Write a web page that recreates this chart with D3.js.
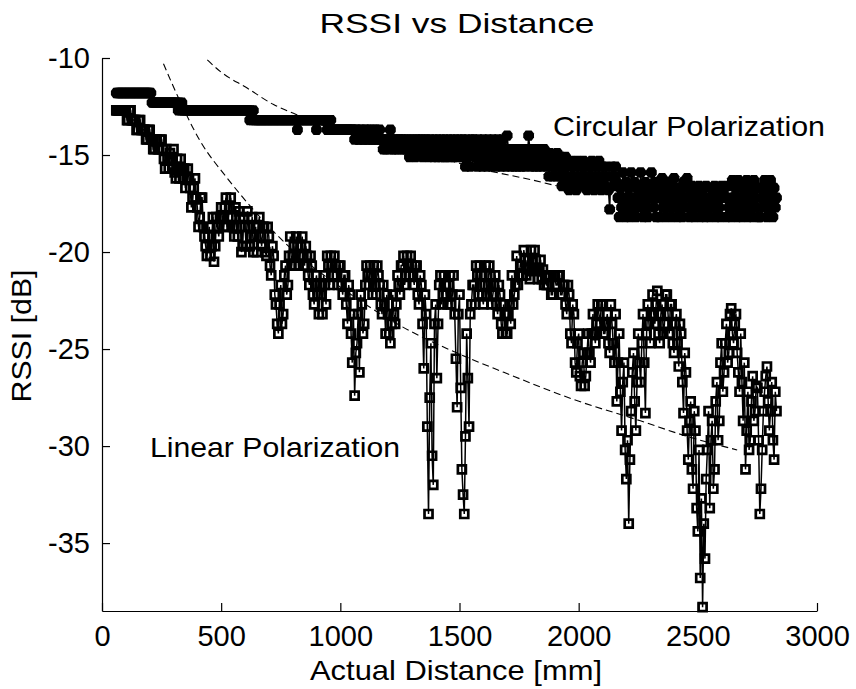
<!DOCTYPE html>
<html>
<head>
<meta charset="utf-8">
<script src="https://cdn.jsdelivr.net/npm/d3@7"></script>
<style>
  body { margin: 0; background: #fff; }
  svg { font-family: "Liberation Sans", Arial, sans-serif; }
  .axis path, .axis line { stroke: #000; stroke-width: 1.2; }
  .axis text { font-size: 29px; fill: #000; }
  .label { font-size: 28px; fill: #000; }
  .path-line { fill: none; stroke: #000; stroke-width: 1.5; }
  .path-fit { fill: none; stroke: #000; stroke-width: 1.1; stroke-dasharray: 7 4; }
</style>
</head>
<body>
<div id="rssi_chart"></div>
<script>
// Sample grid of the measurement (mm)
const firstDistance = 60
const lastDistance = 2830
const distanceStep = 5
const distanceMm = d3.range(firstDistance, lastDistance + 1, distanceStep)

// Linear polarization RSSI (dB), 30 samples per 150 mm
const linearRssi = [
  -12.7, -12.7, -12.7, -12.7, -12.7, -12.7, -12.7, -12.7, -12.7, -13.2, -13.2, -12.7, -12.7, -13.2, -13.2,
  -13.2, -13.2, -13.7, -13.7, -13.2, -13.2, -13.7, -13.7, -13.7, -13.7, -14.2, -14.2, -13.7, -13.7, -14.2,
  -14.2, -14.7, -14.7, -14.2, -14.2, -14.7, -14.7, -14.2, -14.2, -14.7, -15.2, -15.7, -14.7, -15.2, -15.7,
  -14.9, -15.2, -15.7, -14.7, -15.9, -16.2, -15.2, -15.7, -16.2, -15.2, -15.7, -16.2, -15.7, -16.7, -16.2,
  -15.7, -16.2, -16.7, -17.7, -17.2, -16.7, -16.2, -17.2, -17.7, -18.7, -18.2, -17.2, -17.2, -18.7, -19.2,
  -19.7, -20.2, -19.2, -18.7, -20.2, -19.7, -18.2, -20.5, -19.7, -18.2, -18.7, -19.2, -18.2, -17.7, -18.2,
  -18.7, -17.7, -17.2, -18.7, -18.2, -17.7, -17.2, -18.2, -18.7, -19.2, -17.7, -18.7, -19.2, -17.9, -18.2,
  -20.0, -19.7, -18.2, -18.7, -19.7, -17.9, -18.7, -19.7, -19.2, -18.2, -20.0, -19.2, -18.7, -20.0, -18.7,
  -18.2, -19.2, -19.7, -18.7, -18.7, -20.0, -20.2, -18.7, -19.2, -20.7, -21.2, -19.7, -20.2, -22.2, -22.7,
  -23.7, -24.2, -22.7, -21.7, -23.7, -23.2, -21.2, -20.7, -22.2, -21.7, -20.2, -19.2, -20.7, -20.2, -19.7,
  -20.7, -19.2, -19.7, -20.7, -20.2, -19.7, -19.2, -20.2, -20.7, -19.7, -20.2, -21.2, -21.7, -20.2, -20.7,
  -22.2, -22.7, -21.7, -21.2, -22.2, -23.2, -21.7, -22.2, -23.2, -21.2, -21.7, -22.7, -20.2, -20.7, -21.7,
  -20.2, -20.7, -21.2, -20.2, -20.7, -21.2, -21.7, -20.7, -20.7, -21.7, -22.2, -21.2, -21.2, -22.7, -23.7,
  -21.7, -22.2, -24.2, -25.7, -23.2, -27.4, -25.2, -24.7, -23.2, -26.2, -22.2, -22.7, -24.2, -23.7, -21.7,
  -20.7, -21.2, -21.7, -20.7, -21.2, -22.2, -20.7, -21.7, -22.2, -20.7, -21.2, -21.7, -22.7, -23.2, -21.7,
  -22.7, -24.2, -22.2, -23.2, -24.2, -24.7, -23.7, -22.2, -23.2, -23.7, -22.7, -21.2, -21.7, -22.2, -20.7,
  -20.7, -20.2, -21.7, -21.2, -20.2, -20.7, -21.2, -20.2, -20.7, -21.2, -21.7, -20.7, -20.7, -22.2, -22.7,
  -21.2, -21.7, -23.7, -26.0, -22.2, -23.2, -29.0, -33.5, -27.5, -24.7, -30.5, -32.0, -23.7, -22.7, -26.5,
  -23.7, -21.7, -21.2, -22.7, -22.2, -21.2, -21.7, -22.2, -22.7, -21.7, -21.2, -22.7, -22.2, -21.2, -23.2,
  -25.5, -28.0, -23.2, -22.2, -27.0, -31.2, -32.5, -33.5, -29.5, -24.2, -26.5, -29.0, -23.2, -22.7, -21.7,
  -21.7, -22.7, -20.7, -21.2, -22.2, -20.7, -21.2, -22.2, -22.7, -21.7, -20.7, -22.2, -21.7, -20.7, -21.2,
  -22.7, -22.2, -21.7, -21.2, -22.7, -23.2, -21.7, -22.2, -23.7, -24.2, -22.7, -23.2, -24.2, -24.2, -23.2,
  -22.7, -23.7, -21.2, -22.7, -22.2, -21.7, -20.2, -21.7, -21.2, -20.7, -20.7, -21.2, -19.9, -20.4, -21.2,
  -20.9, -20.4, -21.4, -19.9, -20.4, -20.9, -19.9, -20.4, -20.9, -21.4, -20.9, -20.4, -21.4, -20.9, -21.7,
  -21.2, -21.7, -21.7, -21.2, -21.2, -22.2, -22.2, -21.2, -21.2, -21.7, -21.7, -21.2, -21.2, -22.2, -22.2,
  -21.7, -21.7, -22.7, -23.2, -21.7, -22.2, -24.2, -24.7, -22.7, -23.2, -25.7, -26.2, -24.7, -24.2, -26.4,
  -26.9, -25.7, -25.2, -26.9, -26.4, -25.2, -24.2, -25.2, -25.7, -24.2, -23.2, -24.2, -24.7, -23.7, -22.7,
  -23.2, -23.7, -22.7, -22.7, -24.2, -24.2, -23.7, -23.2, -24.7, -25.2, -22.7, -23.7, -24.7, -25.7, -23.2,
  -27.7, -25.7, -24.2, -27.2, -29.2, -26.7, -25.7, -30.2, -31.7, -29.7, -34.0, -30.7, -28.2, -26.2, -25.2,
  -27.7, -29.2, -26.7, -24.2, -25.7, -26.7, -24.7, -23.2, -25.7, -28.3, -24.2, -22.7, -23.7, -24.7, -23.2,
  -22.2, -23.2, -23.7, -22.7, -22.0, -24.2, -24.7, -23.2, -22.7, -24.2, -23.7, -22.2, -22.2, -23.2, -24.2,
  -22.7, -22.7, -24.7, -25.2, -23.7, -23.2, -24.7, -25.9, -23.7, -24.2, -26.7, -28.3, -25.2, -26.2, -29.2,
  -30.7, -28.7, -27.7, -31.2, -32.2, -28.2, -29.2, -33.2, -34.4, -30.2, -36.8, -32.7, -38.3, -34.0, -35.8,
  -31.7, -30.2, -28.2, -33.2, -29.7, -28.7, -32.2, -31.2, -27.7, -26.7, -29.7, -28.7, -25.7, -24.7, -27.2,
  -26.2, -24.7, -23.7, -25.7, -25.2, -23.2, -22.9, -24.2, -24.7, -23.7, -23.2, -25.2, -26.2, -27.2, -24.2,
  -26.7, -28.7, -25.7, -31.2, -29.2, -27.2, -30.2, -29.7, -27.7, -26.4, -28.7, -28.2, -26.9, -27.0, -29.7,
  -33.5, -32.2, -30.2, -28.2, -27.2, -26.4, -25.9, -27.7, -29.2, -28.2, -26.7, -29.7, -30.7, -27.2, -28.2
]

// Circular polarization RSSI (dB), 30 samples per 150 mm
const circularRssi = [
  -11.8, -11.8, -11.8, -11.8, -11.8, -11.8, -11.8, -11.8, -11.8, -11.8, -11.8, -11.8, -11.8, -11.8, -11.8,
  -11.8, -11.8, -11.8, -11.8, -11.8, -11.8, -11.8, -11.8, -11.8, -11.8, -11.8, -11.8, -11.8, -11.8, -11.8,
  -12.3, -12.3, -12.3, -12.3, -12.3, -12.3, -12.3, -12.3, -12.3, -12.3, -12.3, -12.3, -12.3, -12.3, -12.3,
  -12.3, -12.3, -12.3, -12.3, -12.3, -12.3, -12.3, -12.7, -12.3, -12.7, -12.3, -12.7, -12.7, -12.7, -12.7,
  -12.7, -12.7, -12.7, -12.7, -12.7, -12.7, -12.7, -12.7, -12.7, -12.7, -12.7, -12.7, -12.7, -12.7, -12.7,
  -12.7, -12.7, -12.7, -12.7, -12.7, -12.7, -12.7, -12.7, -12.7, -12.7, -12.7, -12.7, -12.7, -12.7, -12.7,
  -12.7, -12.7, -12.7, -12.7, -12.7, -12.7, -12.7, -12.7, -12.7, -12.7, -12.7, -12.7, -12.7, -12.7, -12.7,
  -12.7, -12.7, -12.7, -12.7, -12.7, -12.7, -12.7, -13.2, -12.7, -13.2, -12.7, -13.2, -13.2, -13.2, -13.2,
  -13.2, -13.2, -13.2, -13.2, -13.2, -13.2, -13.2, -13.2, -13.2, -13.2, -13.2, -13.2, -13.2, -13.2, -13.2,
  -13.2, -13.2, -13.2, -13.2, -13.2, -13.2, -13.2, -13.2, -13.2, -13.2, -13.2, -13.2, -13.2, -13.2, -13.2,
  -13.2, -13.2, -13.7, -13.2, -13.2, -13.2, -13.2, -13.2, -13.2, -13.2, -13.2, -13.2, -13.2, -13.2, -13.2,
  -13.2, -13.2, -13.2, -13.7, -13.2, -13.2, -13.2, -13.2, -13.2, -13.2, -13.2, -13.2, -13.7, -13.7, -13.7,
  -13.2, -13.7, -13.7, -13.7, -13.7, -13.7, -13.7, -13.7, -13.7, -13.7, -13.7, -13.7, -13.7, -13.7, -13.7,
  -13.7, -13.7, -13.7, -13.7, -13.7, -14.2, -13.7, -13.7, -14.2, -14.2, -13.7, -13.7, -14.2, -14.2, -13.7,
  -14.2, -13.7, -14.2, -13.7, -14.2, -14.2, -13.7, -14.2, -13.7, -14.2, -14.2, -13.7, -14.2, -14.2, -14.7,
  -14.2, -14.7, -14.2, -14.2, -14.7, -13.7, -14.2, -14.7, -14.2, -14.7, -14.2, -14.7, -14.2, -14.2, -14.7,
  -14.2, -14.7, -14.2, -14.7, -14.2, -14.7, -15.1, -14.2, -14.7, -14.2, -14.7, -15.1, -14.2, -14.7, -14.2,
  -14.7, -14.2, -15.1, -14.7, -14.2, -14.7, -14.2, -15.1, -14.7, -14.2, -14.7, -15.1, -14.2, -14.7, -15.1,
  -14.2, -14.7, -15.1, -14.2, -14.7, -15.1, -14.2, -15.1, -14.7, -14.2, -15.1, -14.7, -14.2, -15.1, -14.7,
  -14.2, -14.7, -15.1, -14.2, -14.7, -15.1, -14.2, -14.7, -15.6, -14.2, -15.1, -14.7, -15.6, -14.2, -14.7,
  -14.2, -15.1, -14.7, -15.6, -14.2, -15.1, -14.7, -15.6, -14.2, -14.7, -15.1, -15.6, -14.2, -15.1, -14.7,
  -15.6, -14.2, -15.1, -14.7, -15.6, -14.2, -15.1, -14.7, -15.6, -14.2, -15.1, -14.7, -15.6, -14.0, -14.7,
  -15.1, -15.6, -14.7, -15.1, -15.6, -14.7, -15.1, -15.6, -14.7, -15.1, -15.6, -14.7, -15.1, -15.6, -14.7,
  -15.1, -14.0, -14.7, -15.6, -15.1, -14.7, -15.6, -15.1, -14.7, -15.6, -15.1, -14.7, -15.6, -15.1, -14.7,
  -14.9, -15.6, -15.1, -16.1, -14.9, -15.6, -16.1, -15.1, -15.6, -16.1, -14.9, -15.6, -16.1, -15.1, -16.6,
  -15.6, -16.1, -15.1, -16.6, -15.6, -16.8, -16.1, -15.3, -16.6, -15.6, -16.1, -16.8, -15.3, -16.1, -16.6,
  -15.6, -16.1, -15.3, -16.6, -15.6, -16.8, -16.1, -15.6, -16.6, -15.3, -16.1, -16.8, -15.6, -16.1, -16.6,
  -15.3, -16.1, -16.8, -15.6, -16.1, -16.6, -15.6, -16.1, -16.8, -17.8, -16.1, -15.6, -16.6, -16.1, -15.6,
  -16.4, -17.2, -18.2, -16.7, -17.7, -15.9, -17.2, -18.2, -16.4, -17.7, -16.7, -18.2, -15.9, -17.2, -17.7,
  -16.4, -18.2, -16.7, -17.2, -17.7, -15.9, -16.7, -18.2, -17.2, -16.4, -17.7, -18.2, -16.7, -17.2, -15.9,
  -16.7, -17.7, -16.4, -18.2, -17.2, -16.7, -18.2, -17.2, -16.2, -17.7, -16.7, -18.2, -17.2, -16.4, -17.7,
  -16.7, -18.2, -17.2, -16.2, -17.7, -16.7, -18.2, -17.2, -16.7, -17.7, -18.2, -16.4, -17.2, -17.7, -16.2,
  -16.7, -18.2, -17.2, -16.6, -17.7, -18.2, -16.7, -17.2, -17.7, -16.6, -18.2, -17.2, -16.7, -17.7, -18.2,
  -16.6, -17.2, -17.7, -18.2, -16.7, -17.2, -17.7, -16.6, -18.2, -17.2, -16.7, -17.7, -18.2, -16.6, -17.2,
  -16.7, -17.2, -18.2, -16.6, -17.7, -17.2, -18.2, -16.3, -17.2, -17.7, -16.7, -18.2, -16.3, -17.2, -17.7,
  -18.2, -16.7, -17.2, -17.7, -16.3, -18.2, -17.2, -16.7, -17.7, -18.2, -16.3, -17.2, -17.7, -16.7, -18.2,
  -18.2, -16.7, -17.2, -17.7, -16.3, -17.2, -18.2, -16.7, -17.7, -16.3, -17.2, -18.2, -16.7, -17.7, -17.2
]

// Dashed path-loss fits
const linearFitDistance = [258, 321, 413, 526, 652, 800, 1000, 1238, 1546, 1686, 1979, 2259, 2455, 2665]
const linearFitRssi = [-10.3, -12.06, -14.3, -16.2, -18.05, -19.9, -21.8, -23.7, -25.5, -26.2, -27.6, -28.7, -29.5, -30.2]
const circularFitDistance = [442, 497, 609, 720, 833, 1000, 1200, 1349, 1462, 1600, 1810, 1990]
const circularFitRssi = [-10.1, -10.7, -11.55, -12.4, -13.0, -13.8, -14.5, -14.9, -15.3, -15.75, -16.3, -16.85]

// Tick values
const xTicks = [0, 500, 1000, 1500, 2000, 2500, 3000]
const yTicks = [-10, -15, -20, -25, -30, -35]

const drawChart = () => {
  // Vars for dimensions
  const margin = { top: 58, right: 39, bottom: 78, left: 102 }
  const width = 856
  const height = 689
  const innerWidth = width - margin.left - margin.right
  const innerHeight = height - margin.top - margin.bottom

  const linear = distanceMm.map((d, i) => ({ dist: d, rssi: linearRssi[i] }))
  const circular = distanceMm.map((d, i) => ({ dist: d, rssi: circularRssi[i] }))
  const linearFit = linearFitDistance.map((d, i) => ({ dist: d, rssi: linearFitRssi[i] }))
  const circularFit = circularFitDistance.map((d, i) => ({ dist: d, rssi: circularFitRssi[i] }))

  const svg = d3.select('#rssi_chart')
    .append('svg')
    .attr('width', width)
    .attr('height', height)

  const g = svg.append('g')
    .attr('transform', `translate(${margin.left}, ${margin.top})`)

  // Scales
  const x = d3.scaleLinear().domain([0, 3000]).range([0, innerWidth])
  const y = d3.scaleLinear().domain([-38.5, -10]).range([innerHeight, 0])

  // Axes, ticks pointing inwards, plain "-10" / "1000" labels
  g.append('g')
    .attr('class', 'axis')
    .attr('transform', `translate(0, ${innerHeight})`)
    .call(d3.axisBottom(x).tickValues(xTicks).tickSizeInner(-8).tickSizeOuter(0).tickPadding(14)
      .tickFormat(d => String(d)))

  g.append('g')
    .attr('class', 'axis')
    .call(d3.axisLeft(y).tickValues(yTicks).tickSizeInner(-8).tickSizeOuter(0).tickPadding(12)
      .tickFormat(d => String(d)))

  const line = d3.line()
    .x(d => x(d.dist))
    .y(d => y(d.rssi))

  // Linear polarization: thin line + open squares
  g.append('path')
    .datum(linear)
    .attr('class', 'path-line')
    .attr('d', line)

  g.append('g')
    .selectAll('path')
    .data(linear)
    .join('path')
    .attr('transform', d => `translate(${x(d.dist)}, ${y(d.rssi)})`)
    .attr('d', d3.symbol(d3.symbolSquare, 64))
    .attr('fill', 'none')
    .attr('stroke', '#000')
    .attr('stroke-width', 2.7)

  // Circular polarization: thin line + filled blocky stars
  const blockStar = {
    draw (ctx) {
      ctx.moveTo(-5.4, -2)
      ctx.lineTo(-3, -5.2)
      ctx.lineTo(3, -5.2)
      ctx.lineTo(5.4, -2)
      ctx.lineTo(5.4, 2)
      ctx.lineTo(3, 5.2)
      ctx.lineTo(-3, 5.2)
      ctx.lineTo(-5.4, 2)
      ctx.closePath()
    }
  }

  g.append('path')
    .datum(circular)
    .attr('class', 'path-line')
    .attr('d', line)

  g.append('g')
    .selectAll('path')
    .data(circular)
    .join('path')
    .attr('transform', d => `translate(${x(d.dist)}, ${y(d.rssi)})`)
    .attr('d', d3.symbol(blockStar))
    .attr('fill', '#000')

  // Dashed fit curves
  const fitLine = d3.line()
    .curve(d3.curveMonotoneX)
    .x(d => x(d.dist))
    .y(d => y(d.rssi))

  g.append('path').datum(linearFit).attr('class', 'path-fit').attr('d', fitLine)
  g.append('path').datum(circularFit).attr('class', 'path-fit').attr('d', fitLine)

  // Title and axis labels
  svg.append('text')
    .attr('class', 'label')
    .attr('x', 457).attr('y', 33)
    .attr('text-anchor', 'middle')
    .attr('textLength', 275).attr('lengthAdjust', 'spacingAndGlyphs')
    .text('RSSI vs Distance')

  svg.append('text')
    .attr('class', 'label')
    .attr('x', 456).attr('y', 680)
    .attr('text-anchor', 'middle')
    .attr('textLength', 292).attr('lengthAdjust', 'spacingAndGlyphs')
    .text('Actual Distance [mm]')

  svg.append('text')
    .attr('class', 'label')
    .attr('transform', 'translate(31, 336) rotate(-90)')
    .attr('text-anchor', 'middle')
    .attr('textLength', 133).attr('lengthAdjust', 'spacingAndGlyphs')
    .text('RSSI [dB]')

  // Series annotations
  svg.append('text')
    .attr('class', 'label')
    .attr('x', 553).attr('y', 136)
    .attr('textLength', 272).attr('lengthAdjust', 'spacingAndGlyphs')
    .text('Circular Polarization')

  svg.append('text')
    .attr('class', 'label')
    .attr('x', 150).attr('y', 457)
    .attr('textLength', 250).attr('lengthAdjust', 'spacingAndGlyphs')
    .text('Linear Polarization')
}

drawChart()
</script>
</body>
</html>
